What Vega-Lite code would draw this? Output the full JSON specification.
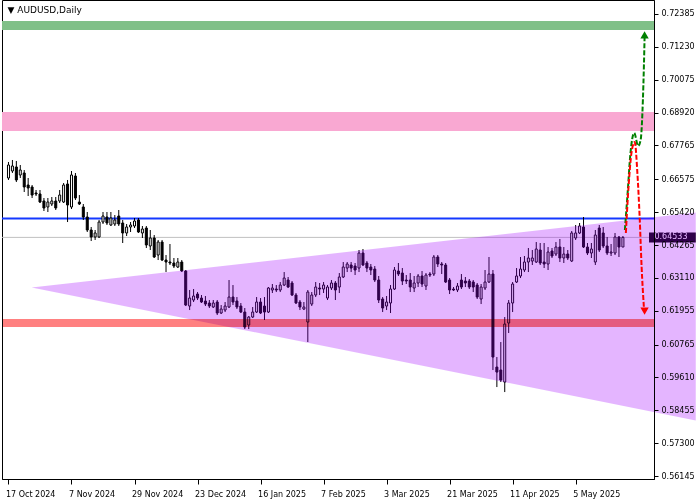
{
"$schema":"https://vega.github.io/schema/vega-lite/v6.json",
"width":652,"height":479,
"autosize":{"type":"none"},
"padding":{"left":2,"top":0,"right":46,"bottom":21},
"background":"white",
"config":{"view":{"stroke":"#000","strokeWidth":1},"axis":{"labelFont":"DejaVu Sans","labelFontSize":8,"labelColor":"#000","domainColor":"#000","tickColor":"#000","grid":false}},
"datasets":{
"info":[{"label":"▼ AUDUSD,Daily","i":-0.25,"p":0.72526}],
"zones":[{"z":"target","y1":0.72139,"y2":0.71822},{"z":"resist","y1":0.6894,"y2":0.68272},{"z":"support","y1":0.61663,"y2":0.61382}],
"levels":[{"name":"line","p":0.65197},{"name":"last","p":0.64533,"label":"0.64533"}],
"tri":[{"i":5.875,"top":0.62771,"bot":0.62771},{"i":174.5,"top":0.65404,"bot":0.581}],
"proj":[
{"s":"g","k":0,"i":156.5,"p":0.64792},{"s":"g","k":1,"i":157.25,"p":0.66198},{"s":"g","k":2,"i":157.875,"p":0.67429},{"s":"g","k":3,"i":158.875,"p":0.68202},{"s":"g","k":4,"i":159.875,"p":0.67745},{"s":"g","k":5,"i":160.5,"p":0.67956},{"s":"g","k":6,"i":161.075,"p":0.69362},{"s":"g","k":7,"i":161.325,"p":0.70522},{"s":"g","k":8,"i":161.5,"p":0.71541},
{"s":"r","k":0,"i":156.75,"p":0.64687},{"s":"r","k":1,"i":157.425,"p":0.66304},{"s":"r","k":2,"i":158.175,"p":0.675},{"s":"r","k":3,"i":159,"p":0.67886},{"s":"r","k":4,"i":159.675,"p":0.66796},{"s":"r","k":5,"i":160.25,"p":0.65249},{"s":"r","k":6,"i":160.75,"p":0.63491},{"s":"r","k":7,"i":161.325,"p":0.62085}],
"arrows":[{"s":"g","i":161.5,"p":0.71647},{"s":"r","i":161.5,"p":0.61944}],
"candles":[
{"i":0,"o":0.6662,"h":0.67183,"l":0.6655,"c":0.67077},
{"i":1,"o":0.66866,"h":0.67253,"l":0.66796,"c":0.67042},
{"i":2,"o":0.67007,"h":0.67218,"l":0.66479,"c":0.6655},
{"i":3,"o":0.66726,"h":0.67077,"l":0.6662,"c":0.66901},
{"i":4,"o":0.66796,"h":0.66901,"l":0.66128,"c":0.66304},
{"i":5,"o":0.66374,"h":0.6662,"l":0.65987,"c":0.66269},
{"i":6,"o":0.66304,"h":0.66374,"l":0.65917,"c":0.66022},
{"i":7,"o":0.66093,"h":0.66198,"l":0.65987,"c":0.66058},
{"i":8,"o":0.66058,"h":0.66198,"l":0.65741,"c":0.65776},
{"i":9,"o":0.65812,"h":0.65917,"l":0.6546,"c":0.65566},
{"i":10,"o":0.65601,"h":0.65917,"l":0.65425,"c":0.65776},
{"i":11,"o":0.65706,"h":0.65952,"l":0.65636,"c":0.65812},
{"i":12,"o":0.65812,"h":0.65952,"l":0.65495,"c":0.65566},
{"i":13,"o":0.65812,"h":0.66198,"l":0.65741,"c":0.66022},
{"i":14,"o":0.65776,"h":0.66444,"l":0.65741,"c":0.66374},
{"i":15,"o":0.66409,"h":0.6655,"l":0.65073,"c":0.65671},
{"i":16,"o":0.65601,"h":0.66866,"l":0.6553,"c":0.66726},
{"i":17,"o":0.6669,"h":0.66796,"l":0.65847,"c":0.65917},
{"i":18,"o":0.65776,"h":0.66022,"l":0.65671,"c":0.65706},
{"i":19,"o":0.65601,"h":0.65706,"l":0.65144,"c":0.65249},
{"i":20,"o":0.65249,"h":0.65425,"l":0.64722,"c":0.64792},
{"i":21,"o":0.64792,"h":0.64898,"l":0.64405,"c":0.64546},
{"i":22,"o":0.64546,"h":0.64792,"l":0.64441,"c":0.64687},
{"i":23,"o":0.64546,"h":0.65144,"l":0.64511,"c":0.65073},
{"i":24,"o":0.65073,"h":0.65425,"l":0.65003,"c":0.65284},
{"i":25,"o":0.65249,"h":0.65425,"l":0.64968,"c":0.65038},
{"i":26,"o":0.64968,"h":0.65425,"l":0.64933,"c":0.65214},
{"i":27,"o":0.65003,"h":0.65319,"l":0.64933,"c":0.65144},
{"i":28,"o":0.65284,"h":0.65495,"l":0.64933,"c":0.65003},
{"i":29,"o":0.65038,"h":0.65144,"l":0.64335,"c":0.64687},
{"i":30,"o":0.64687,"h":0.65003,"l":0.64581,"c":0.64898},
{"i":31,"o":0.64898,"h":0.65073,"l":0.64722,"c":0.64968},
{"i":32,"o":0.64933,"h":0.65214,"l":0.64862,"c":0.65108},
{"i":33,"o":0.65144,"h":0.65214,"l":0.64687,"c":0.64722},
{"i":34,"o":0.64687,"h":0.64933,"l":0.64511,"c":0.64827},
{"i":35,"o":0.64862,"h":0.64933,"l":0.64159,"c":0.64265},
{"i":36,"o":0.6423,"h":0.64792,"l":0.64089,"c":0.64511},
{"i":37,"o":0.64511,"h":0.64616,"l":0.63808,"c":0.63843},
{"i":38,"o":0.63913,"h":0.64441,"l":0.63737,"c":0.6437},
{"i":39,"o":0.6437,"h":0.64441,"l":0.63702,"c":0.63737},
{"i":40,"o":0.63737,"h":0.63913,"l":0.63315,"c":0.63667},
{"i":41,"o":0.63667,"h":0.643,"l":0.63562,"c":0.63632},
{"i":42,"o":0.63632,"h":0.63808,"l":0.63456,"c":0.63526},
{"i":43,"o":0.63491,"h":0.63808,"l":0.63456,"c":0.63667},
{"i":44,"o":0.63667,"h":0.63737,"l":0.63315,"c":0.63351},
{"i":45,"o":0.63351,"h":0.63386,"l":0.6212,"c":0.62155},
{"i":46,"o":0.6212,"h":0.62683,"l":0.61979,"c":0.62401},
{"i":47,"o":0.62331,"h":0.62718,"l":0.62261,"c":0.62472},
{"i":48,"o":0.62542,"h":0.62612,"l":0.62331,"c":0.62401},
{"i":49,"o":0.62401,"h":0.62507,"l":0.62226,"c":0.62261},
{"i":50,"o":0.62296,"h":0.62472,"l":0.6212,"c":0.6219},
{"i":51,"o":0.62226,"h":0.62331,"l":0.6205,"c":0.6212},
{"i":52,"o":0.62085,"h":0.62331,"l":0.6205,"c":0.62226},
{"i":53,"o":0.62261,"h":0.62331,"l":0.61804,"c":0.61874},
{"i":54,"o":0.61874,"h":0.62155,"l":0.61839,"c":0.62015},
{"i":55,"o":0.61979,"h":0.62261,"l":0.61909,"c":0.6212},
{"i":56,"o":0.62085,"h":0.63034,"l":0.6205,"c":0.62436},
{"i":57,"o":0.62436,"h":0.62858,"l":0.62155,"c":0.62261},
{"i":58,"o":0.62296,"h":0.62436,"l":0.62015,"c":0.62085},
{"i":59,"o":0.6212,"h":0.62226,"l":0.61874,"c":0.61909},
{"i":60,"o":0.61909,"h":0.6205,"l":0.61311,"c":0.61382},
{"i":61,"o":0.61452,"h":0.61768,"l":0.61311,"c":0.61733},
{"i":62,"o":0.61733,"h":0.62085,"l":0.61698,"c":0.61909},
{"i":63,"o":0.61909,"h":0.62436,"l":0.61874,"c":0.62261},
{"i":64,"o":0.62261,"h":0.62401,"l":0.61839,"c":0.61874},
{"i":65,"o":0.6212,"h":0.62436,"l":0.61628,"c":0.61909},
{"i":66,"o":0.61909,"h":0.62788,"l":0.61874,"c":0.62753},
{"i":67,"o":0.62683,"h":0.62894,"l":0.62577,"c":0.62753},
{"i":68,"o":0.62718,"h":0.62858,"l":0.62612,"c":0.62683},
{"i":69,"o":0.62683,"h":0.62964,"l":0.62612,"c":0.62858},
{"i":70,"o":0.62858,"h":0.63315,"l":0.62823,"c":0.63104},
{"i":71,"o":0.63034,"h":0.6314,"l":0.62753,"c":0.62788},
{"i":72,"o":0.62929,"h":0.62999,"l":0.62472,"c":0.62507},
{"i":73,"o":0.62507,"h":0.62577,"l":0.6219,"c":0.62226},
{"i":74,"o":0.62261,"h":0.62331,"l":0.61979,"c":0.62085},
{"i":75,"o":0.62015,"h":0.62261,"l":0.61979,"c":0.62085},
{"i":76,"o":0.61558,"h":0.62683,"l":0.60854,"c":0.62612},
{"i":77,"o":0.6219,"h":0.62612,"l":0.6212,"c":0.62507},
{"i":78,"o":0.62507,"h":0.62964,"l":0.62436,"c":0.62788},
{"i":79,"o":0.62753,"h":0.62929,"l":0.62507,"c":0.62718},
{"i":80,"o":0.62718,"h":0.62964,"l":0.62577,"c":0.62858},
{"i":81,"o":0.62401,"h":0.62858,"l":0.62331,"c":0.62788},
{"i":82,"o":0.62753,"h":0.63034,"l":0.62683,"c":0.62929},
{"i":83,"o":0.62929,"h":0.62999,"l":0.62331,"c":0.62683},
{"i":84,"o":0.62788,"h":0.6328,"l":0.62577,"c":0.6314},
{"i":85,"o":0.6314,"h":0.63667,"l":0.63104,"c":0.63491},
{"i":86,"o":0.63456,"h":0.63667,"l":0.63315,"c":0.63597},
{"i":87,"o":0.63562,"h":0.63667,"l":0.63315,"c":0.63456},
{"i":88,"o":0.63526,"h":0.63632,"l":0.6321,"c":0.63386},
{"i":89,"o":0.63456,"h":0.64089,"l":0.63315,"c":0.63983},
{"i":90,"o":0.63983,"h":0.64124,"l":0.63526,"c":0.63562},
{"i":91,"o":0.63632,"h":0.63702,"l":0.63315,"c":0.63456},
{"i":92,"o":0.63491,"h":0.63597,"l":0.6321,"c":0.63386},
{"i":93,"o":0.63421,"h":0.63526,"l":0.62964,"c":0.63034},
{"i":94,"o":0.63034,"h":0.63175,"l":0.62226,"c":0.62331},
{"i":95,"o":0.62366,"h":0.62436,"l":0.61909,"c":0.6205},
{"i":96,"o":0.6212,"h":0.62472,"l":0.61979,"c":0.62261},
{"i":97,"o":0.62226,"h":0.62858,"l":0.61874,"c":0.62718},
{"i":98,"o":0.62718,"h":0.63491,"l":0.62683,"c":0.63386},
{"i":99,"o":0.63351,"h":0.63632,"l":0.63175,"c":0.63245},
{"i":100,"o":0.6328,"h":0.63456,"l":0.62858,"c":0.62999},
{"i":101,"o":0.63034,"h":0.6321,"l":0.62894,"c":0.62999},
{"i":102,"o":0.63034,"h":0.6328,"l":0.62612,"c":0.62788},
{"i":103,"o":0.62753,"h":0.63175,"l":0.62612,"c":0.62929},
{"i":104,"o":0.62929,"h":0.63245,"l":0.62788,"c":0.63175},
{"i":105,"o":0.63175,"h":0.63351,"l":0.62788,"c":0.62894},
{"i":106,"o":0.62823,"h":0.6328,"l":0.62683,"c":0.6321},
{"i":107,"o":0.63245,"h":0.63315,"l":0.6314,"c":0.6321},
{"i":108,"o":0.63245,"h":0.63913,"l":0.63175,"c":0.63843},
{"i":109,"o":0.63843,"h":0.63913,"l":0.63491,"c":0.63597},
{"i":110,"o":0.63597,"h":0.63667,"l":0.63245,"c":0.63562},
{"i":111,"o":0.63562,"h":0.63632,"l":0.62929,"c":0.62964},
{"i":112,"o":0.63034,"h":0.63104,"l":0.62542,"c":0.62683},
{"i":113,"o":0.62718,"h":0.62788,"l":0.62647,"c":0.62683},
{"i":114,"o":0.62683,"h":0.62929,"l":0.62612,"c":0.62823},
{"i":115,"o":0.63034,"h":0.63245,"l":0.62718,"c":0.62788},
{"i":116,"o":0.62999,"h":0.6314,"l":0.62788,"c":0.62929},
{"i":117,"o":0.62999,"h":0.63069,"l":0.62718,"c":0.62788},
{"i":118,"o":0.62964,"h":0.63034,"l":0.62612,"c":0.62788},
{"i":119,"o":0.62858,"h":0.62929,"l":0.62366,"c":0.62436},
{"i":120,"o":0.62366,"h":0.62894,"l":0.6219,"c":0.62788},
{"i":121,"o":0.62753,"h":0.63386,"l":0.62683,"c":0.62964},
{"i":122,"o":0.62964,"h":0.63843,"l":0.62929,"c":0.63245},
{"i":123,"o":0.63245,"h":0.63386,"l":0.5987,"c":0.60327},
{"i":124,"o":0.59975,"h":0.60327,"l":0.59272,"c":0.59799},
{"i":125,"o":0.5987,"h":0.60854,"l":0.59448,"c":0.59518},
{"i":126,"o":0.59448,"h":0.61733,"l":0.59096,"c":0.61487},
{"i":127,"o":0.61522,"h":0.62331,"l":0.61171,"c":0.62226},
{"i":128,"o":0.62226,"h":0.62964,"l":0.61909,"c":0.62894},
{"i":129,"o":0.62964,"h":0.63456,"l":0.62929,"c":0.63175},
{"i":130,"o":0.63175,"h":0.63843,"l":0.63104,"c":0.63421},
{"i":131,"o":0.63386,"h":0.63878,"l":0.63315,"c":0.63667},
{"i":132,"o":0.63667,"h":0.64159,"l":0.63315,"c":0.63808},
{"i":133,"o":0.63702,"h":0.64089,"l":0.63562,"c":0.63808},
{"i":134,"o":0.63667,"h":0.6437,"l":0.63632,"c":0.64124},
{"i":135,"o":0.64089,"h":0.64335,"l":0.63562,"c":0.63632},
{"i":136,"o":0.63667,"h":0.64335,"l":0.63456,"c":0.63597},
{"i":137,"o":0.63597,"h":0.64194,"l":0.63386,"c":0.64019},
{"i":138,"o":0.64054,"h":0.64159,"l":0.63808,"c":0.63878},
{"i":139,"o":0.63948,"h":0.6437,"l":0.63878,"c":0.64194},
{"i":140,"o":0.64194,"h":0.64476,"l":0.63667,"c":0.63808},
{"i":141,"o":0.63808,"h":0.64194,"l":0.63632,"c":0.63948},
{"i":142,"o":0.63948,"h":0.64089,"l":0.63737,"c":0.63808},
{"i":143,"o":0.63702,"h":0.64757,"l":0.63667,"c":0.64687},
{"i":144,"o":0.64511,"h":0.64968,"l":0.64441,"c":0.64687},
{"i":145,"o":0.64687,"h":0.65038,"l":0.64651,"c":0.64933},
{"i":146,"o":0.64898,"h":0.65249,"l":0.64159,"c":0.64194},
{"i":147,"o":0.64194,"h":0.64335,"l":0.63913,"c":0.63983},
{"i":148,"o":0.63983,"h":0.64335,"l":0.63808,"c":0.64124},
{"i":149,"o":0.63667,"h":0.64792,"l":0.63562,"c":0.64616},
{"i":150,"o":0.64862,"h":0.64968,"l":0.64019,"c":0.64089},
{"i":151,"o":0.64687,"h":0.64898,"l":0.64159,"c":0.6423},
{"i":152,"o":0.6423,"h":0.64546,"l":0.63913,"c":0.63983},
{"i":153,"o":0.63983,"h":0.643,"l":0.63878,"c":0.64019},
{"i":154,"o":0.63983,"h":0.64687,"l":0.63913,"c":0.64546},
{"i":155,"o":0.64546,"h":0.64581,"l":0.63843,"c":0.64194},
{"i":156,"o":0.64194,"h":0.64581,"l":0.64194,"c":0.64533}
]},
"layer":[
{"data":{"name":"zones"},"transform":[{"filter":"datum.z == 'target'"}],"mark":{"type":"rect","color":"#80c088"},
 "encoding":{"y":{"field":"y1","type":"quantitative","scale":{"domain":[0.5604,0.72877],"nice":false,"zero":false},
   "axis":{"orient":"right","values":[0.72385,0.7123,0.70075,0.6892,0.67765,0.66575,0.6542,0.64265,0.6311,0.61955,0.60765,0.5961,0.58455,0.573,0.56145],"format":".5f","title":null,"tickSize":4,"labelPadding":3,"labelAlign":"left","labelBaseline":"middle","labelOverlap":false,"labelFlush":false,"labelBound":false,"zindex":1}},"y2":{"field":"y2"}}},
{"data":{"name":"zones"},"transform":[{"filter":"datum.z == 'resist'"}],"mark":{"type":"rect","color":"#f9a8d2"},
 "encoding":{"y":{"field":"y1","type":"quantitative","scale":{"domain":[0.5604,0.72877],"nice":false,"zero":false},
   "axis":{"orient":"right","values":[0.72385,0.7123,0.70075,0.6892,0.67765,0.66575,0.6542,0.64265,0.6311,0.61955,0.60765,0.5961,0.58455,0.573,0.56145],"format":".5f","title":null,"tickSize":4,"labelPadding":3,"labelAlign":"left","labelBaseline":"middle","labelOverlap":false,"labelFlush":false,"labelBound":false,"zindex":1}},"y2":{"field":"y2"}}},
{"data":{"name":"levels"},"transform":[{"filter":"datum.name == 'last'"}],"mark":{"type":"rule","color":"#c0c0c0","strokeWidth":1},
 "encoding":{"y":{"field":"p","type":"quantitative","scale":{"domain":[0.5604,0.72877],"nice":false,"zero":false},
   "axis":{"orient":"right","values":[0.72385,0.7123,0.70075,0.6892,0.67765,0.66575,0.6542,0.64265,0.6311,0.61955,0.60765,0.5961,0.58455,0.573,0.56145],"format":".5f","title":null,"tickSize":4,"labelPadding":3,"labelAlign":"left","labelBaseline":"middle","labelOverlap":false,"labelFlush":false,"labelBound":false,"zindex":1}}}},
{"data":{"name":"levels"},"transform":[{"filter":"datum.name == 'line'"}],"mark":{"type":"rule","color":"#1438ff","strokeWidth":2},
 "encoding":{"y":{"field":"p","type":"quantitative","scale":{"domain":[0.5604,0.72877],"nice":false,"zero":false},
   "axis":{"orient":"right","values":[0.72385,0.7123,0.70075,0.6892,0.67765,0.66575,0.6542,0.64265,0.6311,0.61955,0.60765,0.5961,0.58455,0.573,0.56145],"format":".5f","title":null,"tickSize":4,"labelPadding":3,"labelAlign":"left","labelBaseline":"middle","labelOverlap":false,"labelFlush":false,"labelBound":false,"zindex":1}}}},
{"data":{"name":"candles"},"mark":{"type":"rule","color":"#000","strokeWidth":1},
 "encoding":{
  "x":{"field":"i","type":"quantitative","scale":{"domain":[-0.375,162.625],"nice":false,"zero":false},
   "axis":{"values":[0,16,32,48,64,80,96,112,128,144],"labelExpr":"['17 Oct 2024','7 Nov 2024','29 Nov 2024','23 Dec 2024','16 Jan 2025','7 Feb 2025','3 Mar 2025','21 Mar 2025','11 Apr 2025','5 May 2025'][round(datum.value/16)]","title":null,"labelAlign":"left","labelOffset":-3,"tickSize":5,"labelPadding":6,"labelFlush":false,"labelOverlap":false,"labelBound":false,"zindex":1}},
  "y":{"field":"l","type":"quantitative","scale":{"domain":[0.5604,0.72877],"nice":false,"zero":false},
   "axis":{"orient":"right","values":[0.72385,0.7123,0.70075,0.6892,0.67765,0.66575,0.6542,0.64265,0.6311,0.61955,0.60765,0.5961,0.58455,0.573,0.56145],"format":".5f","title":null,"tickSize":4,"labelPadding":3,"labelAlign":"left","labelBaseline":"middle","labelOverlap":false,"labelFlush":false,"labelBound":false,"zindex":1}},
  "y2":{"field":"h"}}},
{"data":{"name":"candles"},"mark":{"type":"bar","size":2,"stroke":"#000","strokeWidth":1},
 "encoding":{
  "x":{"field":"i","type":"quantitative","scale":{"domain":[-0.375,162.625],"nice":false,"zero":false},
   "axis":{"values":[0,16,32,48,64,80,96,112,128,144],"labelExpr":"['17 Oct 2024','7 Nov 2024','29 Nov 2024','23 Dec 2024','16 Jan 2025','7 Feb 2025','3 Mar 2025','21 Mar 2025','11 Apr 2025','5 May 2025'][round(datum.value/16)]","title":null,"labelAlign":"left","labelOffset":-3,"tickSize":5,"labelPadding":6,"labelFlush":false,"labelOverlap":false,"labelBound":false,"zindex":1}},
  "y":{"field":"o","type":"quantitative","scale":{"domain":[0.5604,0.72877],"nice":false,"zero":false},
   "axis":{"orient":"right","values":[0.72385,0.7123,0.70075,0.6892,0.67765,0.66575,0.6542,0.64265,0.6311,0.61955,0.60765,0.5961,0.58455,0.573,0.56145],"format":".5f","title":null,"tickSize":4,"labelPadding":3,"labelAlign":"left","labelBaseline":"middle","labelOverlap":false,"labelFlush":false,"labelBound":false,"zindex":1}},
  "y2":{"field":"c"},
  "fill":{"condition":{"test":"datum.c < datum.o","value":"#000"},"value":"#fff"}}},
{"data":{"name":"levels"},"transform":[{"filter":"datum.name == 'last'"}],"mark":{"type":"rule","color":"#000","strokeWidth":10,"clip":false},
 "encoding":{"x":{"datum":162.625,"type":"quantitative","scale":{"domain":[-0.375,162.625],"nice":false,"zero":false},
   "axis":{"values":[0,16,32,48,64,80,96,112,128,144],"labelExpr":"['17 Oct 2024','7 Nov 2024','29 Nov 2024','23 Dec 2024','16 Jan 2025','7 Feb 2025','3 Mar 2025','21 Mar 2025','11 Apr 2025','5 May 2025'][round(datum.value/16)]","title":null,"labelAlign":"left","labelOffset":-3,"tickSize":5,"labelPadding":6,"labelFlush":false,"labelOverlap":false,"labelBound":false,"zindex":1}},"x2":{"datum":174.5},
 "y":{"field":"p","type":"quantitative","scale":{"domain":[0.5604,0.72877],"nice":false,"zero":false},
   "axis":{"orient":"right","values":[0.72385,0.7123,0.70075,0.6892,0.67765,0.66575,0.6542,0.64265,0.6311,0.61955,0.60765,0.5961,0.58455,0.573,0.56145],"format":".5f","title":null,"tickSize":4,"labelPadding":3,"labelAlign":"left","labelBaseline":"middle","labelOverlap":false,"labelFlush":false,"labelBound":false,"zindex":1}}}},
{"data":{"name":"levels"},"transform":[{"filter":"datum.name == 'last'"}],"mark":{"type":"text","color":"#fff","align":"left","baseline":"middle","font":"DejaVu Sans","fontSize":8,"clip":false},
 "encoding":{"x":{"datum":164.0,"type":"quantitative","scale":{"domain":[-0.375,162.625],"nice":false,"zero":false},
   "axis":{"values":[0,16,32,48,64,80,96,112,128,144],"labelExpr":"['17 Oct 2024','7 Nov 2024','29 Nov 2024','23 Dec 2024','16 Jan 2025','7 Feb 2025','3 Mar 2025','21 Mar 2025','11 Apr 2025','5 May 2025'][round(datum.value/16)]","title":null,"labelAlign":"left","labelOffset":-3,"tickSize":5,"labelPadding":6,"labelFlush":false,"labelOverlap":false,"labelBound":false,"zindex":1}},
 "y":{"field":"p","type":"quantitative","scale":{"domain":[0.5604,0.72877],"nice":false,"zero":false},
   "axis":{"orient":"right","values":[0.72385,0.7123,0.70075,0.6892,0.67765,0.66575,0.6542,0.64265,0.6311,0.61955,0.60765,0.5961,0.58455,0.573,0.56145],"format":".5f","title":null,"tickSize":4,"labelPadding":3,"labelAlign":"left","labelBaseline":"middle","labelOverlap":false,"labelFlush":false,"labelBound":false,"zindex":1}},"text":{"field":"label"}}},
{"data":{"name":"tri"},"mark":{"type":"area","color":"#a300ff","opacity":0.29,"clip":false},
 "encoding":{"x":{"field":"i","type":"quantitative","scale":{"domain":[-0.375,162.625],"nice":false,"zero":false},
   "axis":{"values":[0,16,32,48,64,80,96,112,128,144],"labelExpr":"['17 Oct 2024','7 Nov 2024','29 Nov 2024','23 Dec 2024','16 Jan 2025','7 Feb 2025','3 Mar 2025','21 Mar 2025','11 Apr 2025','5 May 2025'][round(datum.value/16)]","title":null,"labelAlign":"left","labelOffset":-3,"tickSize":5,"labelPadding":6,"labelFlush":false,"labelOverlap":false,"labelBound":false,"zindex":1}},
 "y":{"field":"top","type":"quantitative","scale":{"domain":[0.5604,0.72877],"nice":false,"zero":false},
   "axis":{"orient":"right","values":[0.72385,0.7123,0.70075,0.6892,0.67765,0.66575,0.6542,0.64265,0.6311,0.61955,0.60765,0.5961,0.58455,0.573,0.56145],"format":".5f","title":null,"tickSize":4,"labelPadding":3,"labelAlign":"left","labelBaseline":"middle","labelOverlap":false,"labelFlush":false,"labelBound":false,"zindex":1}},"y2":{"field":"bot"}}},
{"data":{"name":"zones"},"transform":[{"filter":"datum.z == 'support'"}],"mark":{"type":"rect","color":"#ff8080","blend":"multiply"},
 "encoding":{"y":{"field":"y1","type":"quantitative","scale":{"domain":[0.5604,0.72877],"nice":false,"zero":false},
   "axis":{"orient":"right","values":[0.72385,0.7123,0.70075,0.6892,0.67765,0.66575,0.6542,0.64265,0.6311,0.61955,0.60765,0.5961,0.58455,0.573,0.56145],"format":".5f","title":null,"tickSize":4,"labelPadding":3,"labelAlign":"left","labelBaseline":"middle","labelOverlap":false,"labelFlush":false,"labelBound":false,"zindex":1}},"y2":{"field":"y2"}}},
{"data":{"name":"proj"},"transform":[{"filter":"datum.s == 'g'"}],"mark":{"type":"line","color":"#008000","strokeWidth":2,"strokeDash":[5,2],"interpolate":"monotone","clip":false},
 "encoding":{"x":{"field":"i","type":"quantitative","scale":{"domain":[-0.375,162.625],"nice":false,"zero":false},
   "axis":{"values":[0,16,32,48,64,80,96,112,128,144],"labelExpr":"['17 Oct 2024','7 Nov 2024','29 Nov 2024','23 Dec 2024','16 Jan 2025','7 Feb 2025','3 Mar 2025','21 Mar 2025','11 Apr 2025','5 May 2025'][round(datum.value/16)]","title":null,"labelAlign":"left","labelOffset":-3,"tickSize":5,"labelPadding":6,"labelFlush":false,"labelOverlap":false,"labelBound":false,"zindex":1}},
 "y":{"field":"p","type":"quantitative","scale":{"domain":[0.5604,0.72877],"nice":false,"zero":false},
   "axis":{"orient":"right","values":[0.72385,0.7123,0.70075,0.6892,0.67765,0.66575,0.6542,0.64265,0.6311,0.61955,0.60765,0.5961,0.58455,0.573,0.56145],"format":".5f","title":null,"tickSize":4,"labelPadding":3,"labelAlign":"left","labelBaseline":"middle","labelOverlap":false,"labelFlush":false,"labelBound":false,"zindex":1}},
 "order":{"field":"k","type":"quantitative"}}},
{"data":{"name":"proj"},"transform":[{"filter":"datum.s == 'r'"}],"mark":{"type":"line","color":"#ff0000","strokeWidth":2,"strokeDash":[5,2],"interpolate":"monotone","clip":false},
 "encoding":{"x":{"field":"i","type":"quantitative","scale":{"domain":[-0.375,162.625],"nice":false,"zero":false},
   "axis":{"values":[0,16,32,48,64,80,96,112,128,144],"labelExpr":"['17 Oct 2024','7 Nov 2024','29 Nov 2024','23 Dec 2024','16 Jan 2025','7 Feb 2025','3 Mar 2025','21 Mar 2025','11 Apr 2025','5 May 2025'][round(datum.value/16)]","title":null,"labelAlign":"left","labelOffset":-3,"tickSize":5,"labelPadding":6,"labelFlush":false,"labelOverlap":false,"labelBound":false,"zindex":1}},
 "y":{"field":"p","type":"quantitative","scale":{"domain":[0.5604,0.72877],"nice":false,"zero":false},
   "axis":{"orient":"right","values":[0.72385,0.7123,0.70075,0.6892,0.67765,0.66575,0.6542,0.64265,0.6311,0.61955,0.60765,0.5961,0.58455,0.573,0.56145],"format":".5f","title":null,"tickSize":4,"labelPadding":3,"labelAlign":"left","labelBaseline":"middle","labelOverlap":false,"labelFlush":false,"labelBound":false,"zindex":1}},
 "order":{"field":"k","type":"quantitative"}}},
{"data":{"name":"arrows"},"transform":[{"filter":"datum.s == 'g'"}],"mark":{"type":"point","shape":"triangle-up","color":"#008000","filled":true,"opacity":1,"size":70,"clip":false},
 "encoding":{"x":{"field":"i","type":"quantitative","scale":{"domain":[-0.375,162.625],"nice":false,"zero":false},
   "axis":{"values":[0,16,32,48,64,80,96,112,128,144],"labelExpr":"['17 Oct 2024','7 Nov 2024','29 Nov 2024','23 Dec 2024','16 Jan 2025','7 Feb 2025','3 Mar 2025','21 Mar 2025','11 Apr 2025','5 May 2025'][round(datum.value/16)]","title":null,"labelAlign":"left","labelOffset":-3,"tickSize":5,"labelPadding":6,"labelFlush":false,"labelOverlap":false,"labelBound":false,"zindex":1}},
 "y":{"field":"p","type":"quantitative","scale":{"domain":[0.5604,0.72877],"nice":false,"zero":false},
   "axis":{"orient":"right","values":[0.72385,0.7123,0.70075,0.6892,0.67765,0.66575,0.6542,0.64265,0.6311,0.61955,0.60765,0.5961,0.58455,0.573,0.56145],"format":".5f","title":null,"tickSize":4,"labelPadding":3,"labelAlign":"left","labelBaseline":"middle","labelOverlap":false,"labelFlush":false,"labelBound":false,"zindex":1}}}},
{"data":{"name":"arrows"},"transform":[{"filter":"datum.s == 'r'"}],"mark":{"type":"point","shape":"triangle-down","color":"#ff0000","filled":true,"opacity":1,"size":70,"clip":false},
 "encoding":{"x":{"field":"i","type":"quantitative","scale":{"domain":[-0.375,162.625],"nice":false,"zero":false},
   "axis":{"values":[0,16,32,48,64,80,96,112,128,144],"labelExpr":"['17 Oct 2024','7 Nov 2024','29 Nov 2024','23 Dec 2024','16 Jan 2025','7 Feb 2025','3 Mar 2025','21 Mar 2025','11 Apr 2025','5 May 2025'][round(datum.value/16)]","title":null,"labelAlign":"left","labelOffset":-3,"tickSize":5,"labelPadding":6,"labelFlush":false,"labelOverlap":false,"labelBound":false,"zindex":1}},
 "y":{"field":"p","type":"quantitative","scale":{"domain":[0.5604,0.72877],"nice":false,"zero":false},
   "axis":{"orient":"right","values":[0.72385,0.7123,0.70075,0.6892,0.67765,0.66575,0.6542,0.64265,0.6311,0.61955,0.60765,0.5961,0.58455,0.573,0.56145],"format":".5f","title":null,"tickSize":4,"labelPadding":3,"labelAlign":"left","labelBaseline":"middle","labelOverlap":false,"labelFlush":false,"labelBound":false,"zindex":1}}}},
{"data":{"name":"info"},"mark":{"type":"text","color":"#000","align":"left","baseline":"middle","font":"DejaVu Sans","fontSize":9},
 "encoding":{"x":{"field":"i","type":"quantitative","scale":{"domain":[-0.375,162.625],"nice":false,"zero":false},
   "axis":{"values":[0,16,32,48,64,80,96,112,128,144],"labelExpr":"['17 Oct 2024','7 Nov 2024','29 Nov 2024','23 Dec 2024','16 Jan 2025','7 Feb 2025','3 Mar 2025','21 Mar 2025','11 Apr 2025','5 May 2025'][round(datum.value/16)]","title":null,"labelAlign":"left","labelOffset":-3,"tickSize":5,"labelPadding":6,"labelFlush":false,"labelOverlap":false,"labelBound":false,"zindex":1}},
 "y":{"field":"p","type":"quantitative","scale":{"domain":[0.5604,0.72877],"nice":false,"zero":false},
   "axis":{"orient":"right","values":[0.72385,0.7123,0.70075,0.6892,0.67765,0.66575,0.6542,0.64265,0.6311,0.61955,0.60765,0.5961,0.58455,0.573,0.56145],"format":".5f","title":null,"tickSize":4,"labelPadding":3,"labelAlign":"left","labelBaseline":"middle","labelOverlap":false,"labelFlush":false,"labelBound":false,"zindex":1}},
 "text":{"field":"label"}}}
]
}
